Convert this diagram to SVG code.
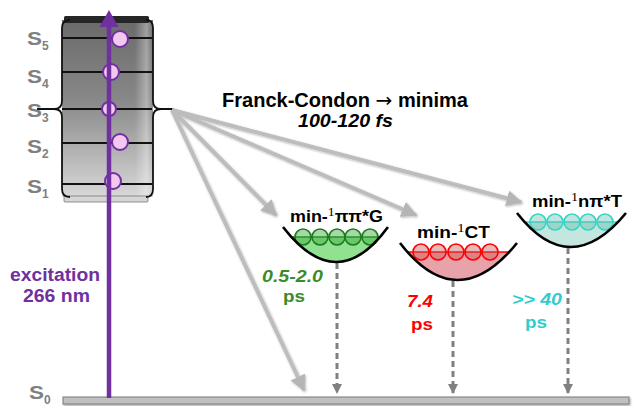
<svg xmlns="http://www.w3.org/2000/svg" width="633" height="406" viewBox="0 0 633 406">
<style>
.lbl{font-family:"Liberation Sans",Arial,sans-serif;font-weight:bold}
.s{font-family:"Liberation Sans",Arial,sans-serif;font-weight:bold;fill:#808080;font-size:18px}
.sub{font-family:"Liberation Sans",Arial,sans-serif;font-weight:bold;fill:#808080;font-size:12px}
.sup{font-family:"Liberation Serif",serif;font-weight:normal;font-size:13px}
.lev{stroke:#111;stroke-width:1.8}
.pc{fill:#f2c8f0;stroke:#7030a0;stroke-width:2}
.ga{stroke:#bdbdbd;stroke-width:4;fill:none;marker-end:url(#gh)}
.da{stroke:#808080;stroke-width:3;stroke-dasharray:6 4;fill:none;marker-end:url(#dh)}
.well{fill:none;stroke:#000;stroke-width:2.6}
</style>
<defs>
<linearGradient id="box" x1="0" y1="0" x2="0" y2="1">
<stop offset="0" stop-color="#6a6a6a"/>
<stop offset="0.45" stop-color="#888888"/>
<stop offset="1" stop-color="#d8d8d8"/>
</linearGradient>
<linearGradient id="shine" x1="0" y1="0" x2="1" y2="0">
<stop offset="0" stop-color="#fff" stop-opacity="0"/>
<stop offset="0.8" stop-color="#fff" stop-opacity="0"/>
<stop offset="0.93" stop-color="#fff" stop-opacity="0.35"/>
<stop offset="1" stop-color="#fff" stop-opacity="0"/>
</linearGradient>
<marker id="gh" viewBox="0 0 10 10" refX="9" refY="5" markerWidth="4" markerHeight="4" orient="auto" markerUnits="strokeWidth">
<path d="M0,0 L10,5 L0,10 Z" fill="#b5b5b5"/>
</marker>
<marker id="dh" viewBox="0 0 10 10" refX="9" refY="5" markerWidth="3.5" markerHeight="3.5" orient="auto" markerUnits="strokeWidth">
<path d="M0,0 L10,5 L0,10 Z" fill="#808080"/>
</marker>
<filter id="sh" x="-5%" y="-50%" width="110%" height="200%">
<feDropShadow dx="1" dy="1.5" stdDeviation="1.2" flood-color="#000" flood-opacity="0.35"/>
</filter>
<filter id="sh2" x="-10%" y="-10%" width="120%" height="120%">
<feDropShadow dx="0.8" dy="1" stdDeviation="0.8" flood-color="#000" flood-opacity="0.3"/>
</filter>
<clipPath id="cg"><rect x="270" y="237" width="130" height="40"/></clipPath>
<clipPath id="cr"><rect x="390" y="252" width="140" height="40"/></clipPath>
<clipPath id="ct"><rect x="505" y="222" width="128" height="40"/></clipPath>
</defs>

<g id="s0">
<rect x="63" y="397" width="566" height="7" fill="#c0c0c0" stroke="#7a7a7a" stroke-width="1" filter="url(#sh)"/>
<text class="s" x="29" y="399" textLength="15" lengthAdjust="spacingAndGlyphs">S</text>
<text class="sub" x="44" y="404">0</text>
</g>

<g id="states-box">
<rect x="62" y="20" width="91" height="177" fill="url(#box)"/>
<rect x="62" y="20" width="91" height="177" fill="url(#shine)"/>
<rect x="64" y="16" width="85" height="7" rx="1.5" fill="#262626"/>
<rect x="64" y="196" width="84" height="6" rx="1" fill="#d6d6d6" stroke="#777" stroke-width="0.8"/>
<line class="lev" x1="62" y1="38" x2="152" y2="38"/>
<line class="lev" x1="62" y1="72" x2="152" y2="72"/>
<line class="lev" x1="62" y1="109" x2="152" y2="109"/>
<line class="lev" x1="62" y1="143" x2="152" y2="143"/>
<line class="lev" x1="62" y1="184" x2="152" y2="184"/>
<path d="M70,20 Q62,20 62,28 V101 Q62,109 54,109 H37 M54,109 Q62,109 62,117 V189 Q62,197 70,197" fill="none" stroke="#111" stroke-width="1.8"/>
<path d="M146,20 Q153,20 153,28 V101 Q153,109 161,109 H174 M161,109 Q153,109 153,117 V189 Q153,197 146,197" fill="none" stroke="#111" stroke-width="1.8"/>
<text class="s" x="27" y="45" textLength="15" lengthAdjust="spacingAndGlyphs">S</text><text class="sub" x="42" y="50">5</text>
<text class="s" x="27" y="83" textLength="15" lengthAdjust="spacingAndGlyphs">S</text><text class="sub" x="42" y="88">4</text>
<text class="s" x="27" y="117" textLength="15" lengthAdjust="spacingAndGlyphs">S</text><text class="sub" x="42" y="122">3</text>
<text class="s" x="27" y="153" textLength="15" lengthAdjust="spacingAndGlyphs">S</text><text class="sub" x="42" y="158">2</text>
<text class="s" x="27" y="193" textLength="15" lengthAdjust="spacingAndGlyphs">S</text><text class="sub" x="42" y="198">1</text>
<circle class="pc" cx="120" cy="39" r="8"/>
<circle class="pc" cx="111" cy="72" r="8"/>
<circle class="pc" cx="109" cy="109" r="7"/>
<circle class="pc" cx="120" cy="142" r="8"/>
<circle class="pc" cx="113" cy="181" r="8"/>
</g>

<g id="excitation">
<line x1="109" y1="398" x2="109" y2="24" stroke="#7030a0" stroke-width="4.5"/>
<polygon points="109,10 99.5,27 118.5,27" fill="#7030a0"/>
<text class="lbl" x="10" y="281" font-size="18" fill="#7030a0" textLength="90" lengthAdjust="spacingAndGlyphs">excitation</text>
<text class="lbl" x="23" y="302" font-size="18" fill="#7030a0" textLength="67" lengthAdjust="spacingAndGlyphs">266 nm</text>
</g>

<g id="connectors">
<g filter="url(#sh2)">
<line class="ga" x1="172" y1="110" x2="304" y2="390"/>
<line class="ga" x1="172" y1="110" x2="276" y2="215"/>
<line class="ga" x1="172" y1="110" x2="416" y2="215"/>
<line class="ga" x1="172" y1="110" x2="521" y2="202"/>
</g>
<line class="da" x1="337" y1="263" x2="337" y2="393"/>
<line class="da" x1="453" y1="281" x2="453" y2="393"/>
<line class="da" x1="568" y1="248" x2="568" y2="393"/>
</g>

<g id="title">
<text class="lbl" x="222" y="107" font-size="19.5" fill="#000" textLength="246" lengthAdjust="spacingAndGlyphs">Franck-Condon <tspan font-family="DejaVu Sans,sans-serif" font-weight="normal">→</tspan> minima</text>
<text class="lbl" x="298" y="127" font-size="19" font-style="italic" fill="#000" textLength="95" lengthAdjust="spacingAndGlyphs">100-120 fs</text>
</g>

<g id="min-pipiG">
<path d="M283,227 Q337,297 388,227 Z" fill="#90e290" clip-path="url(#cg)"/>
<line x1="291" y1="237" x2="380" y2="237" stroke="#1f7a1f" stroke-width="1.5"/>
<g fill="#3aaa3a" fill-opacity="0.45" stroke="#1f7a1f" stroke-width="1.6">
<circle cx="303" cy="237" r="8"/><circle cx="320" cy="237" r="8"/><circle cx="337" cy="237" r="8"/><circle cx="353" cy="237" r="8"/><circle cx="370" cy="237" r="8"/>
</g>
<path class="well" d="M283,227 Q337,297 388,227"/>
<text class="lbl" x="290" y="222" font-size="17" textLength="93" lengthAdjust="spacingAndGlyphs">min-<tspan class="sup" dy="-6">1</tspan><tspan dy="6">ππ*G</tspan></text>
<text class="lbl" x="262" y="282" font-size="17" font-style="italic" fill="#3d8b27" textLength="61" lengthAdjust="spacingAndGlyphs">0.5-2.0</text>
<text class="lbl" x="283" y="302" font-size="17" fill="#3d8b27" textLength="22" lengthAdjust="spacingAndGlyphs">ps</text>
</g>

<g id="min-CT">
<path d="M400,243 Q457,317 517,243 Z" fill="#e8a3aa" clip-path="url(#cr)"/>
<line x1="407" y1="252" x2="509" y2="252" stroke="#ff0000" stroke-width="1.5"/>
<g fill="#c85050" fill-opacity="0.4" stroke="#ff0000" stroke-width="1.6">
<circle cx="421" cy="252" r="8"/><circle cx="438" cy="252" r="8"/><circle cx="456" cy="252" r="8"/><circle cx="473" cy="252" r="8"/><circle cx="490" cy="252" r="8"/>
</g>
<path class="well" d="M400,243 Q457,317 517,243"/>
<text class="lbl" x="417" y="238" font-size="17" textLength="73" lengthAdjust="spacingAndGlyphs">min-<tspan class="sup" dy="-6">1</tspan><tspan dy="6">CT</tspan></text>
<text class="lbl" x="407" y="307" font-size="17" font-style="italic" fill="#ff0000" textLength="26" lengthAdjust="spacingAndGlyphs">7.4</text>
<text class="lbl" x="411" y="330" font-size="17" fill="#ff0000" textLength="22" lengthAdjust="spacingAndGlyphs">ps</text>
</g>

<g id="min-npiT">
<path d="M517,213 Q570,281 626,213 Z" fill="#c4e6de" clip-path="url(#ct)"/>
<line x1="524" y1="222" x2="618" y2="222" stroke="#33d6c8" stroke-width="1.5"/>
<g fill="#6ab8ae" fill-opacity="0.4" stroke="#33d6c8" stroke-width="1.6">
<circle cx="538" cy="222" r="8"/><circle cx="555" cy="222" r="8"/><circle cx="572" cy="222" r="8"/><circle cx="588" cy="222" r="8"/><circle cx="605" cy="222" r="8"/>
</g>
<path class="well" d="M517,213 Q570,281 626,213"/>
<text class="lbl" x="532" y="207" font-size="17" textLength="90" lengthAdjust="spacingAndGlyphs">min-<tspan class="sup" dy="-6">1</tspan><tspan dy="6">nπ*T</tspan></text>
<text class="lbl" x="512" y="305" font-size="17" font-style="italic" fill="#33cccc" textLength="50" lengthAdjust="spacingAndGlyphs">&gt;&gt; 40</text>
<text class="lbl" x="525" y="328" font-size="17" fill="#33cccc" textLength="22" lengthAdjust="spacingAndGlyphs">ps</text>
</g>
</svg>
